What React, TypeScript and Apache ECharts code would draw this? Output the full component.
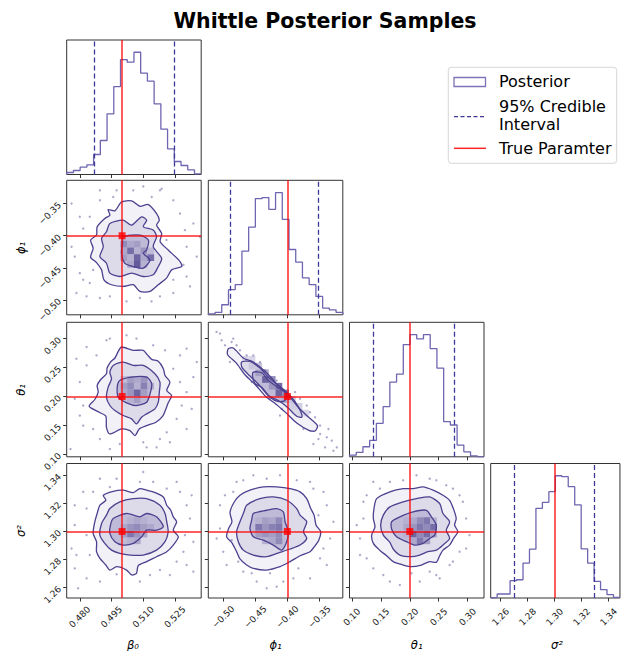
import React, { useEffect, useRef } from "react";
import * as echarts from "echarts";

// ---------------- data ----------------
const PARAM_NAMES = ["β₀", "ϕ₁", "θ₁", "σ²"];
const TRUE_VALUES = [0.5, -0.4, 0.2, 1.3];
const AXIS_MIN = [0.4738, -0.5234, 0.0958, 1.2526];
const AXIS_MAX = [0.5374, -0.3135, 0.3282, 1.3484];
const TICKS = [
  [0.48, 0.495, 0.51, 0.525],
  [-0.5, -0.45, -0.4, -0.35],
  [0.1, 0.15, 0.2, 0.25, 0.3],
  [1.26, 1.28, 1.3, 1.32, 1.34],
];
const TICK_DECIMALS = [3, 2, 2, 2];
const CI_LOW = [0.4868, -0.4895, 0.1371, 1.2702];
const CI_HIGH = [0.5247, -0.3525, 0.2775, 1.329];

const HIST_BETA0 = [6, 12, 22, 29, 60, 102, 182, 264, 345, 337, 367, 304, 280, 212, 136, 77, 39, 27, 14, 2];
const HIST_PHI1 = [3, 7, 30, 75, 90, 190, 262, 347, 350, 315, 365, 285, 195, 157, 110, 90, 55, 20, 15, 7];
const HIST_THETA1 = [5, 13, 30, 49, 100, 150, 223, 247, 335, 365, 352, 365, 323, 265, 105, 95, 35, 15, 3, 0];
const HIST_SIGMA2 = [2, 12, 12, 52, 55, 105, 147, 270, 288, 320, 368, 365, 335, 280, 148, 105, 50, 25, 10, 2];

// contours (outer, middle, inner)
const B0_PHI1_C1 = [[0.4997,-0.3473],[0.5045,-0.3457],[0.5084,-0.354],[0.5124,-0.3514],[0.5163,-0.3654],[0.5176,-0.3757],[0.5163,-0.3835],[0.5187,-0.3964],[0.518,-0.4093],[0.5218,-0.4222],[0.5274,-0.4403],[0.5282,-0.4481],[0.5234,-0.4533],[0.521,-0.4662],[0.5171,-0.4765],[0.5132,-0.4869],[0.5084,-0.4869],[0.5053,-0.4765],[0.5005,-0.4791],[0.495,-0.4765],[0.4914,-0.4688],[0.4903,-0.4533],[0.4879,-0.4419],[0.4851,-0.4336],[0.4863,-0.4196],[0.4851,-0.4067],[0.4879,-0.399],[0.4882,-0.386],[0.4918,-0.3731],[0.4942,-0.3679],[0.4934,-0.3592],[0.4966,-0.3612]];
const B0_PHI1_C2 = [[0.4942,-0.3809],[0.5005,-0.3757],[0.5045,-0.3835],[0.5092,-0.3705],[0.5116,-0.3757],[0.51,-0.386],[0.5147,-0.3912],[0.5163,-0.4016],[0.5147,-0.4171],[0.5187,-0.4352],[0.5171,-0.4481],[0.5147,-0.461],[0.51,-0.4636],[0.5045,-0.4584],[0.4989,-0.4636],[0.4942,-0.4584],[0.4926,-0.4429],[0.4895,-0.4326],[0.4911,-0.4171],[0.4903,-0.4041],[0.4926,-0.3938]];
const B0_PHI1_C3 = [[0.5005,-0.4016],[0.5084,-0.399],[0.5124,-0.4067],[0.5116,-0.4222],[0.51,-0.4274],[0.5132,-0.4377],[0.51,-0.4507],[0.5053,-0.4481],[0.5013,-0.4429],[0.4997,-0.4274],[0.5002,-0.4119]];

const B0_THETA1_C1 = [[0.4997,0.2855],[0.5053,0.2798],[0.51,0.2798],[0.5119,0.2723],[0.514,0.2642],[0.5171,0.2607],[0.5195,0.248],[0.5203,0.2364],[0.5226,0.2249],[0.5211,0.2104],[0.5234,0.2017],[0.5218,0.189],[0.5207,0.1786],[0.5192,0.1659],[0.516,0.1555],[0.5116,0.1497],[0.5081,0.1439],[0.5061,0.1324],[0.5037,0.141],[0.4997,0.1439],[0.4942,0.1353],[0.4926,0.1468],[0.4923,0.1659],[0.4892,0.1728],[0.4844,0.1832],[0.4871,0.1948],[0.4887,0.2075],[0.4882,0.2191],[0.4898,0.2289],[0.4926,0.2393],[0.4929,0.2491],[0.4945,0.2595],[0.4966,0.2665],[0.4982,0.278]];
const B0_THETA1_C2 = [[0.4958,0.2537],[0.5005,0.2595],[0.5053,0.2537],[0.51,0.2537],[0.5155,0.2393],[0.5179,0.2249],[0.5176,0.2075],[0.5171,0.1902],[0.5155,0.1786],[0.5116,0.17],[0.5092,0.1642],[0.5068,0.1526],[0.5045,0.1613],[0.5005,0.1671],[0.4966,0.1757],[0.4942,0.1844],[0.4926,0.1988],[0.4934,0.2162],[0.495,0.2306],[0.4942,0.2422]];
const B0_THETA1_C3 = [[0.4989,0.2277],[0.5045,0.2335],[0.5116,0.2335],[0.514,0.222],[0.5132,0.2046],[0.5116,0.1902],[0.5068,0.1844],[0.5021,0.189],[0.4982,0.1988],[0.4977,0.2162]];

const PHI1_THETA1_C1 = [[-0.4922,0.2827],[-0.4844,0.2838],[-0.4688,0.2665],[-0.4531,0.2595],[-0.4323,0.241],[-0.4156,0.2202],[-0.4,0.2046],[-0.3844,0.1832],[-0.3687,0.1659],[-0.3531,0.1497],[-0.3568,0.1405],[-0.3656,0.141],[-0.3854,0.1543],[-0.4021,0.1717],[-0.4177,0.1867],[-0.4333,0.1994],[-0.449,0.2191],[-0.4662,0.2376],[-0.4802,0.2584],[-0.4933,0.2722]];
const PHI1_THETA1_C2 = [[-0.4714,0.2595],[-0.4584,0.2607],[-0.4427,0.2491],[-0.4297,0.2335],[-0.4141,0.2191],[-0.4021,0.2087],[-0.388,0.1913],[-0.3792,0.174],[-0.3776,0.1642],[-0.3854,0.1659],[-0.4,0.1815],[-0.4141,0.1931],[-0.4297,0.2017],[-0.4448,0.2208],[-0.4584,0.2353],[-0.4709,0.2503]];
const PHI1_THETA1_C3 = [[-0.4531,0.2422],[-0.4401,0.241],[-0.4297,0.2277],[-0.4115,0.2133],[-0.4021,0.2046],[-0.4036,0.1931],[-0.4141,0.1913],[-0.4271,0.1988],[-0.4401,0.2162],[-0.4505,0.222],[-0.4542,0.2335]];

const B0_SIGMA2_C1 = [[0.4911,1.3258],[0.4958,1.3286],[0.5005,1.3294],[0.5053,1.3277],[0.5084,1.3305],[0.5116,1.3294],[0.5147,1.3282],[0.5195,1.3246],[0.5211,1.3187],[0.523,1.3151],[0.5242,1.3104],[0.5258,1.3069],[0.5242,1.3009],[0.5266,1.2962],[0.5242,1.2903],[0.5211,1.2856],[0.5163,1.282],[0.5116,1.2785],[0.5076,1.2756],[0.5068,1.2702],[0.5045,1.269],[0.5021,1.2725],[0.4974,1.2749],[0.4942,1.2725],[0.4923,1.2761],[0.4895,1.2808],[0.4879,1.2856],[0.4879,1.2927],[0.4863,1.2986],[0.4871,1.3069],[0.4882,1.3128],[0.4895,1.3187],[0.4923,1.3222]];
const B0_SIGMA2_C2 = [[0.4942,1.3163],[0.4989,1.3211],[0.5053,1.3234],[0.5116,1.3234],[0.5179,1.3187],[0.5203,1.3128],[0.5211,1.3069],[0.5218,1.2998],[0.5203,1.2927],[0.5163,1.2867],[0.51,1.2832],[0.5037,1.2832],[0.4989,1.2844],[0.495,1.2867],[0.4918,1.2915],[0.4895,1.2974],[0.4903,1.3057],[0.4926,1.3116]];
const B0_SIGMA2_C3 = [[0.4958,1.3092],[0.5021,1.3128],[0.5084,1.3104],[0.5116,1.3128],[0.5163,1.3104],[0.5195,1.3033],[0.5163,1.3009],[0.5116,1.3009],[0.5092,1.2962],[0.5053,1.2915],[0.5005,1.2903],[0.4966,1.2927],[0.4942,1.2986],[0.4945,1.3045]];

const PHI1_SIGMA2_C1 = [[-0.474,1.3258],[-0.4584,1.3294],[-0.4375,1.3317],[-0.4167,1.3317],[-0.3958,1.3305],[-0.3802,1.3282],[-0.3698,1.3234],[-0.3635,1.3163],[-0.3583,1.3116],[-0.3552,1.3045],[-0.3479,1.2998],[-0.351,1.2938],[-0.3568,1.2898],[-0.3646,1.2856],[-0.3802,1.2827],[-0.3958,1.2785],[-0.4115,1.2749],[-0.4323,1.2725],[-0.4531,1.2737],[-0.4636,1.2761],[-0.474,1.2804],[-0.4792,1.2856],[-0.487,1.2922],[-0.4948,1.2962],[-0.4917,1.3021],[-0.4865,1.3069],[-0.4896,1.3135],[-0.4834,1.3206]];
const PHI1_SIGMA2_C2 = [[-0.4636,1.3187],[-0.4427,1.3234],[-0.4219,1.3246],[-0.401,1.3222],[-0.3854,1.3163],[-0.3802,1.3116],[-0.3698,1.3069],[-0.375,1.2998],[-0.3698,1.295],[-0.3802,1.2903],[-0.3958,1.2875],[-0.4115,1.2851],[-0.4323,1.282],[-0.4531,1.2832],[-0.4688,1.2867],[-0.4766,1.2927],[-0.4792,1.2998],[-0.474,1.3069],[-0.4677,1.314]];
const PHI1_SIGMA2_C3 = [[-0.4531,1.3128],[-0.4323,1.3151],[-0.4167,1.3163],[-0.4063,1.314],[-0.4036,1.3069],[-0.3984,1.2998],[-0.401,1.2927],[-0.4089,1.2867],[-0.4219,1.2903],[-0.4375,1.2938],[-0.4531,1.2962],[-0.4584,1.3021],[-0.4557,1.308]];

const THETA1_SIGMA2_C1 = [[0.1427,1.3234],[0.1656,1.3282],[0.1885,1.3305],[0.2057,1.3305],[0.2229,1.3317],[0.2401,1.3294],[0.2573,1.3258],[0.2688,1.3222],[0.2756,1.3159],[0.2802,1.3092],[0.2774,1.3045],[0.2831,1.2998],[0.2756,1.295],[0.2688,1.2903],[0.2573,1.2867],[0.2516,1.2827],[0.2458,1.278],[0.2344,1.2785],[0.2201,1.2761],[0.2029,1.2749],[0.1885,1.2761],[0.1713,1.2785],[0.1599,1.2827],[0.1484,1.2865],[0.137,1.2915],[0.1341,1.2974],[0.1398,1.3033],[0.137,1.3092],[0.1381,1.3163]];
const THETA1_SIGMA2_C2 = [[0.1542,1.3116],[0.1656,1.3175],[0.1885,1.3211],[0.2115,1.3234],[0.2344,1.3246],[0.2516,1.3199],[0.2573,1.3128],[0.2688,1.3069],[0.263,1.3009],[0.2688,1.295],[0.2573,1.2903],[0.2458,1.2867],[0.2315,1.2856],[0.2172,1.2832],[0.2029,1.282],[0.1828,1.2832],[0.1713,1.2875],[0.1656,1.2922],[0.1542,1.2974],[0.1496,1.3045]];
const THETA1_SIGMA2_C3 = [[0.1685,1.3069],[0.1828,1.3104],[0.2057,1.314],[0.2287,1.3151],[0.2372,1.3104],[0.2458,1.3045],[0.243,1.2974],[0.2344,1.295],[0.2229,1.2915],[0.2086,1.2903],[0.1943,1.2927],[0.1771,1.2962],[0.1685,1.3017]];

// samples drawn outside the contours
const B0_PHI1_DOTS = [[0.51,-0.323],[0.4895,-0.3447],[0.514,-0.3395],[0.5242,-0.3447],[0.5274,-0.3654],[0.5297,-0.3912],[0.5337,-0.381],[0.5305,-0.4171],[0.529,-0.4455],[0.5242,-0.4688],[0.5179,-0.4946],[0.5021,-0.5024],[0.4895,-0.4972],[0.4832,-0.4946],[0.48,-0.4584],[0.4776,-0.4326],[0.4761,-0.4171],[0.4816,-0.3886],[0.4847,-0.3705],[0.4958,-0.3395],[0.5053,-0.3292],[0.5187,-0.3266],[0.521,-0.4067],[0.4863,-0.4533],[0.4942,-0.4946],[0.5084,-0.4972],[0.4847,-0.4739],[0.5353,-0.4326],[0.4761,-0.3498],[0.48,-0.3705],[0.4816,-0.4688],[0.5305,-0.4636],[0.5321,-0.4791],[0.5368,-0.4016],[0.5179,-0.3292],[0.4974,-0.3292],[0.4895,-0.3292],[0.5139,-0.5024],[0.5242,-0.4894],[0.4784,-0.4894]];
const B0_THETA1_DOTS = [[0.4926,0.2971],[0.5068,0.3],[0.5147,0.2884],[0.5203,0.2798],[0.5274,0.2711],[0.5337,0.2335],[0.5305,0.2075],[0.5282,0.1844],[0.5258,0.1613],[0.5211,0.1382],[0.5163,0.1121],[0.51,0.1208],[0.4989,0.1179],[0.4895,0.1266],[0.4863,0.1439],[0.48,0.167],[0.4776,0.196],[0.48,0.2249],[0.4832,0.2538],[0.4879,0.2711],[0.4756,0.1093],[0.4832,0.2855],[0.5242,0.248],[0.5179,0.1266],[0.4816,0.1844],[0.4942,0.3],[0.5021,0.3058],[0.5305,0.2827],[0.5353,0.2595],[0.5329,0.1786],[0.5305,0.1439],[0.5116,0.1121],[0.4942,0.1093],[0.4816,0.1497],[0.4784,0.2653],[0.5274,0.2249],[0.5226,0.1208]];
const PHI1_THETA1_DOTS = [[-0.5105,0.3116],[-0.5026,0.2971],[-0.4974,0.2884],[-0.4792,0.2884],[-0.4636,0.2711],[-0.4427,0.2595],[-0.4557,0.2249],[-0.4271,0.196],[-0.4089,0.1786],[-0.3802,0.196],[-0.3646,0.1728],[-0.3489,0.1497],[-0.3489,0.1353],[-0.3385,0.1295],[-0.3594,0.1179],[-0.3411,0.1121],[-0.3281,0.1064],[-0.375,0.1439],[-0.4844,0.3],[-0.4896,0.2595],[-0.5052,0.3087],[-0.487,0.2942],[-0.474,0.2798],[-0.4531,0.2711],[-0.4349,0.2451],[-0.4167,0.2277],[-0.388,0.2075],[-0.3698,0.1844],[-0.3568,0.1642],[-0.3359,0.1439],[-0.3307,0.1237],[-0.3515,0.1266],[-0.3229,0.1121],[-0.4115,0.1671]];
const B0_SIGMA2_DOTS = [[0.4974,1.3376],[0.5084,1.3353],[0.51,1.3424],[0.5211,1.3305],[0.5274,1.3282],[0.5305,1.3187],[0.5321,1.3092],[0.5297,1.2974],[0.529,1.2856],[0.5258,1.2785],[0.5226,1.269],[0.5132,1.269],[0.4974,1.2695],[0.4895,1.2643],[0.4792,1.2595],[0.4776,1.2737],[0.4761,1.2879],[0.4776,1.3045],[0.4832,1.3163],[0.4863,1.3282],[0.4832,1.2974],[0.4942,1.3317],[0.5337,1.2714],[0.4847,1.2832],[0.4895,1.3376],[0.5147,1.3353],[0.5258,1.3353],[0.5329,1.3258],[0.5337,1.2927],[0.5305,1.2761],[0.5179,1.2725],[0.5084,1.2643],[0.4832,1.2666],[0.4776,1.3187],[0.4816,1.3282],[0.4784,1.2832]];
const PHI1_SIGMA2_DOTS = [[-0.4531,1.34],[-0.4688,1.3365],[-0.4115,1.34],[-0.3854,1.3365],[-0.3594,1.3305],[-0.3385,1.3187],[-0.3515,1.3116],[-0.3281,1.3069],[-0.3437,1.2879],[-0.3828,1.2737],[-0.3646,1.2666],[-0.4063,1.2643],[-0.4271,1.2702],[-0.4557,1.2702],[-0.4766,1.2785],[-0.5,1.2856],[-0.5052,1.3021],[-0.5052,1.3187],[-0.4844,1.3282],[-0.487,1.2938],[-0.3385,1.2761],[-0.4323,1.2595],[-0.4792,1.3353],[-0.4323,1.3376],[-0.3646,1.3353],[-0.3437,1.3282],[-0.3333,1.295],[-0.349,1.2808],[-0.3906,1.2666],[-0.4479,1.2643],[-0.4688,1.2714],[-0.4948,1.2761],[-0.5104,1.295],[-0.4974,1.3258],[-0.4167,1.2607]];
const THETA1_SIGMA2_DOTS = [[0.137,1.3353],[0.1656,1.3353],[0.2115,1.34],[0.2458,1.3365],[0.2745,1.3305],[0.2917,1.3211],[0.2974,1.3092],[0.3031,1.2974],[0.286,1.2856],[0.2688,1.2761],[0.2516,1.2666],[0.2172,1.2643],[0.1828,1.2619],[0.1542,1.269],[0.1255,1.2808],[0.114,1.295],[0.1198,1.3092],[0.1198,1.3211],[0.2029,1.2702],[0.2344,1.2714],[0.114,1.2832],[0.1484,1.3305],[0.1885,1.3365],[0.2344,1.3376],[0.263,1.3329],[0.286,1.3258],[0.2974,1.2879],[0.2745,1.2785],[0.2458,1.269],[0.1656,1.2643],[0.137,1.2737],[0.1083,1.3045],[0.1255,1.3258]];

// dense 2-D histogram cells: [x bin, y bin, relative density]
const B0_PHI1_CELLS = [[8,10,0.6],[9,10,0.45],[10,10,0.5],[11,10,0.35],[8,9,0.45],[9,9,0.75],[10,9,0.4],[11,9,0.55],[12,9,0.35],[8,8,0.5],[9,8,0.4],[10,8,0.8],[11,8,0.45],[12,8,0.75],[9,7,0.45],[10,7,0.85],[11,7,0.4]];
const B0_THETA1_CELLS = [[8,11,0.35],[9,11,0.5],[10,11,0.45],[11,11,0.55],[8,10,0.5],[9,10,0.6],[10,10,0.4],[11,10,0.65],[12,10,0.4],[8,9,0.45],[9,9,0.55],[10,9,0.8],[11,9,0.5],[9,8,0.4],[10,8,0.5],[11,8,0.35]];
const PHI1_THETA1_CELLS = [[7,12,0.5],[8,12,0.45],[8,11,0.8],[9,11,0.6],[9,10,0.55],[10,10,0.75],[10,9,0.8],[11,9,0.6],[11,8,0.4],[7,13,0.3],[6,13,0.3],[12,8,0.3],[12,7,0.25],[13,7,0.25],[13,6,0.2],[14,6,0.2],[6,14,0.2],[5,14,0.2]];
const B0_SIGMA2_CELLS = [[8,11,0.35],[9,11,0.4],[10,11,0.45],[11,11,0.4],[8,10,0.45],[9,10,0.55],[10,10,0.6],[11,10,0.5],[12,10,0.45],[8,9,0.5],[9,9,0.7],[10,9,0.55],[11,9,0.45],[9,8,0.4],[10,8,0.45]];
const PHI1_SIGMA2_CELLS = [[7,11,0.4],[8,11,0.5],[9,11,0.45],[10,11,0.6],[7,10,0.7],[8,10,0.55],[9,10,0.65],[10,10,0.7],[7,9,0.5],[8,9,0.55],[9,9,0.5],[10,9,0.6],[11,9,0.35],[8,8,0.4],[9,8,0.45],[10,8,0.6]];
const THETA1_SIGMA2_CELLS = [[8,11,0.4],[9,11,0.45],[10,11,0.6],[11,11,0.7],[12,11,0.4],[8,10,0.45],[9,10,0.55],[10,10,0.7],[11,10,0.6],[12,10,0.75],[8,9,0.4],[9,9,0.8],[10,9,0.6],[11,9,0.75],[12,9,0.45],[9,8,0.45],[10,8,0.7],[11,8,0.5]];

const HISTS = [HIST_BETA0, HIST_PHI1, HIST_THETA1, HIST_SIGMA2];
const N_BINS = 20;

// ---------------- styles / layout ----------------
const FONT = "DejaVu Sans";
const FRAME = "#333333";
const HIST_COLOR = "#6e66b0";
const CI_COLOR = "#3d3899";
const CONTOUR_COLOR = "#4b418f";
const RED = "rgba(255,0,0,0.85)";
const FILLS = ["rgba(72,61,139,0.07)", "rgba(72,61,139,0.12)", "rgba(72,61,139,0.2)"];
const PANEL = 134.5;
const COL_X = [66.7, 208.3, 349.5, 490.7];
const ROW_Y = [40, 180.3, 322.3, 463.5];

const PAIRS = [
  { r: 1, c: 0, contours: [B0_PHI1_C1, B0_PHI1_C2, B0_PHI1_C3], dots: B0_PHI1_DOTS, cells: B0_PHI1_CELLS },
  { r: 2, c: 0, contours: [B0_THETA1_C1, B0_THETA1_C2, B0_THETA1_C3], dots: B0_THETA1_DOTS, cells: B0_THETA1_CELLS },
  { r: 2, c: 1, contours: [PHI1_THETA1_C1, PHI1_THETA1_C2, PHI1_THETA1_C3], dots: PHI1_THETA1_DOTS, cells: PHI1_THETA1_CELLS },
  { r: 3, c: 0, contours: [B0_SIGMA2_C1, B0_SIGMA2_C2, B0_SIGMA2_C3], dots: B0_SIGMA2_DOTS, cells: B0_SIGMA2_CELLS },
  { r: 3, c: 1, contours: [PHI1_SIGMA2_C1, PHI1_SIGMA2_C2, PHI1_SIGMA2_C3], dots: PHI1_SIGMA2_DOTS, cells: PHI1_SIGMA2_CELLS },
  { r: 3, c: 2, contours: [THETA1_SIGMA2_C1, THETA1_SIGMA2_C2, THETA1_SIGMA2_C3], dots: THETA1_SIGMA2_DOTS, cells: THETA1_SIGMA2_CELLS },
];

function fmt(i: number) {
  return (v: number) => v.toFixed(TICK_DECIMALS[i]).replace("-", "\u2212");
}

function cellColor(v: number) {
  const r = Math.round(255 + (72 - 255) * v);
  const g = Math.round(255 + (61 - 255) * v);
  const b = Math.round(255 + (139 - 255) * v);
  return `rgb(${r},${g},${b})`;
}

function buildOption() {
  const grid: any[] = [];
  const xAxis: any[] = [];
  const yAxis: any[] = [];
  const series: any[] = [];

  const addGrid = (r: number, c: number) => {
    const gi = grid.length;
    grid.push({
      left: COL_X[c], top: ROW_Y[r], width: PANEL, height: PANEL,
      show: true, borderColor: FRAME, borderWidth: 1, backgroundColor: "transparent",
    });
    xAxis.push({
      gridIndex: gi, type: "value", min: AXIS_MIN[c], max: AXIS_MAX[c],
      axisLine: { show: false }, splitLine: { show: false },
      axisTick: { show: true, customValues: TICKS[c], length: 3.5, lineStyle: { color: FRAME } },
      axisLabel: {
        show: r === 3, customValues: TICKS[c], rotate: 45, align: "center", verticalAlign: "middle",
        margin: 19, fontSize: 9, color: "#222", fontFamily: FONT, formatter: fmt(c),
      },
    });
    return gi;
  };

  // diagonal histograms
  for (let k = 0; k < 4; k++) {
    const gi = addGrid(k, k);
    const counts = HISTS[k];
    const maxC = Math.max(...counts);
    yAxis.push({
      gridIndex: gi, type: "value", min: 0, max: maxC * 1.1,
      axisLine: { show: false }, splitLine: { show: false },
      axisTick: { show: false }, axisLabel: { show: false },
    });
    const w = (AXIS_MAX[k] - AXIS_MIN[k]) / N_BINS;
    const pts: number[][] = [[AXIS_MIN[k], 0]];
    counts.forEach((cnt, i) => pts.push([AXIS_MIN[k] + i * w, cnt]));
    pts.push([AXIS_MAX[k], counts[counts.length - 1]]);
    pts.push([AXIS_MAX[k], 0]);
    series.push({
      type: "line", xAxisIndex: gi, yAxisIndex: gi, data: pts, step: "end",
      symbol: "none", silent: true, z: 2,
      lineStyle: { color: HIST_COLOR, width: 1.3 },
      markLine: {
        silent: true, symbol: ["none", "none"], label: { show: false }, precision: 6,
        data: [
          { xAxis: CI_LOW[k], lineStyle: { type: [5, 3], color: CI_COLOR, width: 1.3 } },
          { xAxis: CI_HIGH[k], lineStyle: { type: [5, 3], color: CI_COLOR, width: 1.3 } },
          { xAxis: TRUE_VALUES[k], lineStyle: { type: "solid", color: RED, width: 1.5 } },
        ],
      },
    });
  }

  // 2-D panels
  PAIRS.forEach((p) => {
    const gi = addGrid(p.r, p.c);
    yAxis.push({
      gridIndex: gi, type: "value", min: AXIS_MIN[p.r], max: AXIS_MAX[p.r],
      axisLine: { show: false }, splitLine: { show: false },
      axisTick: { show: true, customValues: TICKS[p.r], length: 3.5, lineStyle: { color: FRAME } },
      axisLabel: {
        show: p.c === 0, customValues: TICKS[p.r], rotate: 45, margin: 7,
        fontSize: 9, color: "#222", fontFamily: FONT, formatter: fmt(p.r),
      },
    });
    const sx = (AXIS_MAX[p.c] - AXIS_MIN[p.c]) / N_BINS;
    const sy = (AXIS_MAX[p.r] - AXIS_MIN[p.r]) / N_BINS;
    const polys = p.contours;

    series.push({
      type: "custom", xAxisIndex: gi, yAxisIndex: gi, silent: true, z: 1,
      data: polys.map((poly, i) => [poly[0][0], poly[0][1], i]),
      renderItem: (params: any, api: any) => {
        const poly = polys[params.dataIndex];
        return {
          type: "polygon",
          shape: { points: poly.map((q) => api.coord(q)), smooth: 0.25 },
          style: { fill: FILLS[params.dataIndex], stroke: null },
        };
      },
    });
    series.push({
      type: "custom", xAxisIndex: gi, yAxisIndex: gi, silent: true, z: 2,
      data: p.cells.map(([bx, by, v]) => [AXIS_MIN[p.c] + (bx + 0.5) * sx, AXIS_MIN[p.r] + (by + 0.5) * sy, v]),
      renderItem: (params: any, api: any) => {
        const ctr = api.coord([api.value(0), api.value(1)]);
        const s = api.size([sx, sy]);
        return {
          type: "rect",
          shape: { x: ctr[0] - s[0] / 2, y: ctr[1] - s[1] / 2, width: s[0], height: s[1] },
          style: { fill: cellColor(api.value(2)) },
        };
      },
    });
    series.push({
      type: "custom", xAxisIndex: gi, yAxisIndex: gi, silent: true, z: 3,
      data: polys.map((poly, i) => [poly[0][0], poly[0][1], i]),
      renderItem: (params: any, api: any) => {
        const poly = polys[params.dataIndex];
        return {
          type: "polygon",
          shape: { points: poly.map((q) => api.coord(q)), smooth: 0.25 },
          style: { fill: null, stroke: CONTOUR_COLOR, lineWidth: 1.3 },
        };
      },
    });
    series.push({
      type: "scatter", xAxisIndex: gi, yAxisIndex: gi, silent: true, z: 4,
      data: p.dots, symbolSize: 2.4,
      itemStyle: { color: "rgba(72,61,139,0.55)" },
      markLine: {
        silent: true, symbol: ["none", "none"], label: { show: false }, precision: 6,
        lineStyle: { type: "solid", color: RED, width: 1.5 },
        data: [{ xAxis: TRUE_VALUES[p.c] }, { yAxis: TRUE_VALUES[p.r] }],
      },
    });
    series.push({
      type: "scatter", xAxisIndex: gi, yAxisIndex: gi, silent: true, z: 6,
      data: [[TRUE_VALUES[p.c], TRUE_VALUES[p.r]]], symbol: "rect", symbolSize: 7,
      itemStyle: { color: "#ff0000" },
    });
  });

  const txt = (x: number, y: number, text: string, extra: any = {}) => ({
    type: "text", x, y, silent: true,
    style: {
      text, fontFamily: FONT, fill: "#000", fontSize: 16,
      align: "left", verticalAlign: "middle", textAlign: "left", textVerticalAlign: "middle",
      ...extra,
    },
  });
  const nameStyle = { fontSize: 11.5, fontStyle: "italic", align: "center", textAlign: "center" };

  const graphic: any[] = [
    txt(325, 21, "Whittle Posterior Samples", { fontSize: 20.5, fontWeight: "bold", align: "center", textAlign: "center" }),
    // axis names
    txt(133, 645, PARAM_NAMES[0], nameStyle),
    txt(275.5, 645, PARAM_NAMES[1], nameStyle),
    txt(416.7, 645, PARAM_NAMES[2], nameStyle),
    txt(557, 645, PARAM_NAMES[3], nameStyle),
    { ...txt(21, 248, PARAM_NAMES[1], nameStyle), rotation: Math.PI / 2 },
    { ...txt(21, 390, PARAM_NAMES[2], nameStyle), rotation: Math.PI / 2 },
    { ...txt(21, 531, PARAM_NAMES[3], nameStyle), rotation: Math.PI / 2 },
    // legend
    {
      type: "rect", silent: true, z: 10,
      shape: { x: 448.3, y: 67.3, width: 168.4, height: 96, r: 3 },
      style: { fill: "rgba(255,255,255,0.8)", stroke: "#d6d6d6", lineWidth: 1 },
    },
    {
      type: "rect", silent: true, z: 11,
      shape: { x: 454, y: 77.5, width: 31.5, height: 9 },
      style: { fill: "none", stroke: "#7c74b6", lineWidth: 1.3 },
    },
    {
      type: "line", silent: true, z: 11,
      shape: { x1: 454, y1: 116.7, x2: 486, y2: 116.7 },
      style: { stroke: CI_COLOR, lineWidth: 1.3, lineDash: [4, 2.5] },
    },
    {
      type: "line", silent: true, z: 11,
      shape: { x1: 454, y1: 148.3, x2: 486, y2: 148.3 },
      style: { stroke: RED, lineWidth: 1.5 },
    },
    { ...txt(499, 81.5, "Posterior"), z: 11 },
    { ...txt(499, 106, "95% Credible"), z: 11 },
    { ...txt(499, 124.5, "Interval"), z: 11 },
    { ...txt(499, 148, "True Paramter"), z: 11 },
  ];

  return {
    animation: false,
    backgroundColor: "#ffffff",
    textStyle: { fontFamily: FONT },
    grid, xAxis, yAxis, series, graphic,
  };
}

export default function App() {
  const ref = useRef<HTMLDivElement>(null);
  useEffect(() => {
    document.body.style.margin = "0";
    if (!ref.current) return;
    const chart = echarts.init(ref.current, undefined, { renderer: "svg" });
    chart.setOption(buildOption() as any);
    return () => chart.dispose();
  }, []);
  return <div ref={ref} style={{ width: 621, height: 651 }} />;
}
